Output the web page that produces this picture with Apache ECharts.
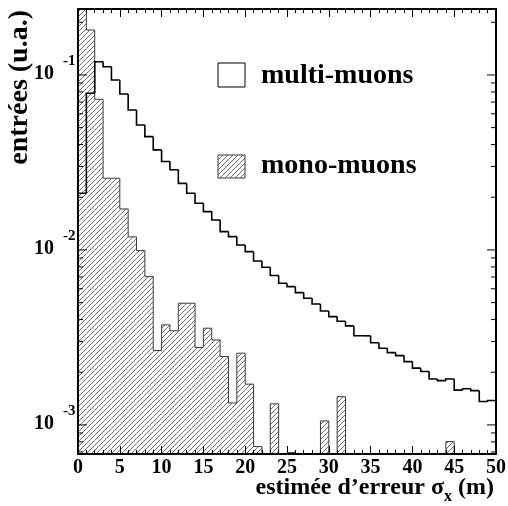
<!DOCTYPE html>
<html><head><meta charset="utf-8">
<script src="https://cdn.jsdelivr.net/npm/echarts@6/dist/echarts.min.js"></script>
<style>html,body{margin:0;padding:0;background:#fff}#c{width:508px;height:506px}</style>
</head><body><div id="c"></div>
<script>
// ---- data ----
const binLow  = [0,1,2,3,4,5,6,7,8,9,10,11,12,13,14,15,16,17,18,19,20,21,22,23,24,25,26,27,28,29,30,31,32,33,34,35,36,37,38,39,40,41,42,43,44,45,46,47,48,49];
const binHigh = [1,2,3,4,5,6,7,8,9,10,11,12,13,14,15,16,17,18,19,20,21,22,23,24,25,26,27,28,29,30,31,32,33,34,35,36,37,38,39,40,41,42,43,44,45,46,47,48,49,50];
const multiMuons = [0.0211,0.0786,0.119,0.1115,0.0936,0.0779,0.0631,0.0518,0.0444,0.0373,
  0.0320,0.0287,0.0240,0.0211,0.0185,0.01656,0.01484,0.01273,0.01191,0.01068,
  0.00978,0.00865,0.00796,0.00715,0.00645,0.00617,0.00570,0.00530,0.00491,0.00448,
  0.00416,0.00391,0.00368,0.00323,0.00323,0.00295,0.00274,0.00259,0.00249,0.00230,
  0.00211,0.00202,0.00183,0.00179,0.00183,0.00158,0.00161,0.00157,0.00136,0.00138];
const monoMuons = [0.40,0.1807,0.0726,0.0257,0.0257,0.01715,0.01187,0.00991,0.00704,0.00266,
  0.00373,0.00345,0.00496,0.00496,0.00277,0.00357,0.00306,0.00246,0.001335,0.00257,
  0.00171,0.000752,0,0.00132,0,0.000695,0,0,0,0.001054,
  0,0.00145,0,0,0,0,0,0,0,0,
  0,0,0,0,0.000803,0,0,0,0,0];
const yMajorTicks = [0.001, 0.01, 0.1];
const yMajorExp = ['-3', '-2', '-1'];
const yMinorTicks = [0.0007,0.0008,0.0009,0.002,0.003,0.004,0.005,0.006,0.007,0.008,0.009,
  0.02,0.03,0.04,0.05,0.06,0.07,0.08,0.09,0.2];
const seriesNames = ['multi-muons', 'mono-muons'];
const xTitleMain = 'estimée d’erreur σ';
const xTitleSub = 'x';
const xTitleEnd = ' (m)';
const yTitle = 'entrées (u.a.)';

// ---- styling ----
const FONT = '"Liberation Serif", "Times New Roman", serif';
function makeHatch() {
  const n = 5;
  const c = document.createElement('canvas');
  c.width = n; c.height = n;
  const g = c.getContext('2d');
  g.strokeStyle = '#6e6e6e';
  g.lineWidth = 1;
  g.beginPath();
  g.moveTo(-1, n + 1); g.lineTo(n + 1, -1);
  g.moveTo(-1, 1); g.lineTo(1, -1);
  g.moveTo(n - 1, n + 1); g.lineTo(n + 1, n - 1);
  g.stroke();
  return c;
}
const hatchFill = { image: makeHatch(), repeat: 'repeat' };

function histSeries(name, values, fill, stroke, lw, z) {
  return {
    type: 'custom', name: name, z: z, silent: true,
    xAxisIndex: 0, yAxisIndex: 0,
    encode: { x: [0, 1], y: 2 },
    data: values.map((v, i) => [binLow[i], binHigh[i], v]),
    renderItem: function (params, api) {
      const cs = params.coordSys;
      const top = cs.y, bottom = cs.y + cs.height;
      const yOf = v => v > 0 ? Math.min(bottom, Math.max(top, api.coord([0, v])[1])) : bottom;
      const i = params.dataIndex;
      const x0 = api.coord([api.value(0), 0.01])[0];
      const x1 = api.coord([api.value(1), 0.01])[0];
      const y = yOf(api.value(2));
      const yp = i > 0 ? yOf(values[i - 1]) : bottom;
      const children = [];
      if (fill && y < bottom) {
        children.push({ type: 'rect', shape: { x: x0, y: y, width: x1 - x0, height: bottom - y }, style: { fill: fill } });
      }
      const pts = [[x0, yp], [x0, y], [x1, y]];
      if (i === values.length - 1) pts.push([x1, bottom]);
      children.push({ type: 'polyline', shape: { points: pts }, style: { stroke: stroke, lineWidth: lw, fill: null } });
      return { type: 'group', children: children };
    }
  };
}

const tickData = yMinorTicks.map(v => [v, 0, -1]).concat(yMajorTicks.map((v, i) => [v, 1, i]));

const yMin = 6.82e-4, yMax = 0.2382;

const chart = echarts.init(document.getElementById('c'), null, { renderer: 'canvas' });
chart.setOption({
  animation: false,
  backgroundColor: '#fff',
  grid: { left: 78, top: 9, right: 12, bottom: 52, outerBoundsMode: 'none', containLabel: false },
  xAxis: [{
    type: 'value', min: 0, max: 50, interval: 5, position: 'bottom', z: 5,
    axisLine: { show: true, onZero: false, lineStyle: { color: '#000', width: 2 } },
    axisTick: { show: true, inside: true, length: 8, lineStyle: { color: '#000', width: 1 } },
    minorTick: { show: true, splitNumber: 5, length: 4, lineStyle: { color: '#000', width: 1 } },
    axisLabel: { show: true, margin: 4, color: '#000', fontFamily: FONT, fontWeight: 'bold', fontSize: 20 },
    splitLine: { show: false }
  }, {
    type: 'value', min: 0, max: 50, interval: 5, position: 'top', z: 5,
    axisLine: { show: true, onZero: false, lineStyle: { color: '#000', width: 2 } },
    axisTick: { show: true, inside: true, length: 8, lineStyle: { color: '#000', width: 1 } },
    minorTick: { show: true, splitNumber: 5, length: 4, lineStyle: { color: '#000', width: 1 } },
    axisLabel: { show: false },
    splitLine: { show: false }
  }],
  yAxis: [{
    type: 'log', min: yMin, max: yMax, position: 'left', z: 5,
    axisLine: { show: true, onZero: false, lineStyle: { color: '#000', width: 2 } },
    axisTick: { show: false }, axisLabel: { show: false }, splitLine: { show: false }
  }, {
    type: 'log', min: yMin, max: yMax, position: 'right', z: 5,
    axisLine: { show: true, onZero: false, lineStyle: { color: '#000', width: 2 } },
    axisTick: { show: false }, axisLabel: { show: false }, splitLine: { show: false }
  }],
  series: [
    histSeries(seriesNames[1], monoMuons, hatchFill, '#3a3a3a', 1, 2),
    histSeries(seriesNames[0], multiMuons, null, '#000', 1.6, 3),
    {
      type: 'custom', name: 'yticks', z: 6, silent: true,
      xAxisIndex: 0, yAxisIndex: 0,
      encode: { x: 1, y: 0 },
      data: tickData,
      renderItem: function (params, api) {
        const cs = params.coordSys;
        const left = cs.x, right = cs.x + cs.width;
        const y = api.coord([0, api.value(0)])[1];
        const major = api.value(1) === 1;
        const len = major ? 9 : 5;
        const children = [
          { type: 'line', shape: { x1: left, y1: y, x2: left + len, y2: y }, style: { stroke: '#000', lineWidth: 1 } },
          { type: 'line', shape: { x1: right - len, y1: y, x2: right, y2: y }, style: { stroke: '#000', lineWidth: 1 } }
        ];
        if (major) {
          const idx = api.value(2);
          children.push({ type: 'text', x: left - 24, y: y - 1,
            style: { text: '10', font: 'bold 20px ' + FONT, fill: '#000', align: 'right', verticalAlign: 'middle' } });
          children.push({ type: 'text', x: left - 15, y: y - 14,
            style: { text: yMajorExp[idx], font: 'bold 15px ' + FONT, fill: '#000', align: 'left', verticalAlign: 'middle' } });
        }
        return { type: 'group', children: children };
      }
    }
  ],
  graphic: [
    { type: 'rect', x: 218, y: 63, shape: { x: 0, y: 0, width: 27, height: 24 }, style: { fill: '#fff', stroke: '#000', lineWidth: 1 } },
    { type: 'text', x: 261, y: 75.5, style: { text: seriesNames[0], font: 'bold 28px ' + FONT, fill: '#000', align: 'left', verticalAlign: 'middle' } },
    { type: 'rect', x: 218, y: 155, shape: { x: 0, y: 0, width: 27, height: 23 }, style: { fill: hatchFill, stroke: '#3a3a3a', lineWidth: 1 } },
    { type: 'text', x: 261, y: 165.5, style: { text: seriesNames[1], font: 'bold 28px ' + FONT, fill: '#000', align: 'left', verticalAlign: 'middle' } },
    { type: 'text', x: 494, y: 487.5, style: {
        text: '{a|' + xTitleMain + '}{b|' + xTitleSub + '}{a|' + xTitleEnd + '}',
        align: 'right', verticalAlign: 'middle', fill: '#000',
        rich: {
          a: { fontFamily: FONT, fontWeight: 'bold', fontSize: 24, lineHeight: 24, verticalAlign: 'top', fill: '#000' },
          b: { fontFamily: FONT, fontWeight: 'bold', fontSize: 16, lineHeight: 16, verticalAlign: 'top', padding: [13, 0, 0, 0], fill: '#000' }
        } } },
    { type: 'text', x: 20, y: 10, rotation: Math.PI / 2, style: { text: yTitle, font: 'bold 28px ' + FONT, fill: '#000', align: 'right', verticalAlign: 'middle' } }
  ]
});
</script>
</body></html>
